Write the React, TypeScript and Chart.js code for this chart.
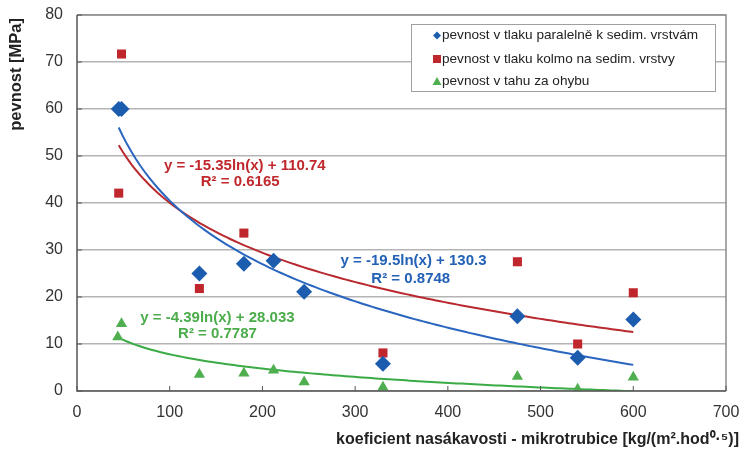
import React, { useEffect, useRef } from 'react';
import { Chart, registerables } from 'chart.js';
Chart.register(...registerables);

const FONT = '"Liberation Sans", Arial, Helvetica, sans-serif';

// Series
const seriesNames = [
  'pevnost v tlaku paralelně k sedim. vrstvám',
  'pevnost v tlaku kolmo na sedim. vrstvy',
  'pevnost v tahu za ohybu',
];
const parallelX = [45, 48, 132, 180, 212, 245, 330, 475, 540, 600];
const parallelY = [60, 60, 25, 27.1, 27.7, 21.1, 5.8, 15.9, 7.1, 15.2];
const perpX = [48, 45, 132, 180, 330, 475, 540, 600];
const perpY = [71.7, 42.1, 21.8, 33.6, 8.1, 27.5, 10.0, 20.9];
const bendX = [48, 44, 132, 180, 212, 245, 330, 475, 540, 600];
const bendY = [14.3, 11.5, 3.5, 3.8, 4.4, 1.9, 0.8, 3.1, 0.35, 2.9];

// Logarithmic trendlines as printed on the chart: y = a*ln(x) + b
const trendA = [-19.5, -15.35, -4.39];
const trendB = [130.3, 110.74, 28.033];
const trendFrom = [45, 45, 44];
const trendTo = [600, 600, 600];
const trendEq = ['y = -19.5ln(x) + 130.3', 'y = -15.35ln(x) + 110.74', 'y = -4.39ln(x) + 28.033'];
const trendR2 = ['R² = 0.8748', 'R² = 0.6165', 'R² = 0.7787'];
// label anchor points in data units (line 1 and line 2)
const eqX = [363, 181, 151.5];
const eqY = [27.6, 48.0, 15.6];
const r2X = [360, 176, 151.5];
const r2Y = [23.9, 44.4, 12.1];

const xTitle = 'koeficient nasákavosti - mikrotrubice [kg/(m².hod⁰·⁵)]';
const yTitle = 'pevnost [MPa]';
const xTicksMax = 700;
const yTicksMax = 80;

const markerColors = ['#1c5cae', '#c0272d', '#4fae4f'];
const lineColors = ['#2a66c0', '#b92a30', '#3bab45'];
const textColors = ['#2261b6', '#c0282d', '#4aac4a'];

function trendPoints(i: number) {
  const pts: { x: number; y: number }[] = [];
  const steps = 120;
  for (let k = 0; k <= steps; k++) {
    const x = trendFrom[i] + ((trendTo[i] - trendFrom[i]) * k) / steps;
    pts.push({ x, y: trendA[i] * Math.log(x) + trendB[i] });
  }
  return pts;
}

const zip = (xs: number[], ys: number[]) => xs.map((x, i) => ({ x, y: ys[i] }));

const decorPlugin = {
  id: 'decor',
  afterDraw(chart: any) {
    const { ctx, chartArea: ca, scales } = chart;
    const xs = scales.x;
    const ys = scales.y;
    ctx.save();
    // frame
    ctx.strokeStyle = '#8c8c8c';
    ctx.lineWidth = 1.5;
    ctx.beginPath();
    ctx.moveTo(ca.left, ca.top);
    ctx.lineTo(ca.right, ca.top);
    ctx.lineTo(ca.right, ca.bottom);
    ctx.stroke();
    ctx.strokeStyle = '#555';
    ctx.beginPath();
    ctx.moveTo(ca.left, ca.top);
    ctx.lineTo(ca.left, ca.bottom);
    ctx.lineTo(ca.right, ca.bottom);
    ctx.stroke();
    // inside tick marks
    ctx.lineWidth = 1;
    ctx.beginPath();
    for (let v = 0; v <= xTicksMax; v += 100) {
      const px = xs.getPixelForValue(v);
      ctx.moveTo(px, ca.bottom);
      ctx.lineTo(px, ca.bottom - 5);
    }
    for (let v = 0; v <= yTicksMax; v += 10) {
      const py = ys.getPixelForValue(v);
      ctx.moveTo(ca.left, py);
      ctx.lineTo(ca.left + 5, py);
    }
    ctx.stroke();

    // axis titles
    ctx.font = `bold 16px ${FONT}`;
    ctx.fillStyle = '#222';
    ctx.textAlign = 'right';
    ctx.textBaseline = 'middle';
    ctx.fillText(xTitle, chart.width - 2, ca.bottom + 49);

    ctx.save();
    ctx.translate(16, ca.top + 3);
    ctx.rotate(-Math.PI / 2);
    ctx.font = `bold 16.5px ${FONT}`;
    ctx.textAlign = 'right';
    ctx.fillText(yTitle, 0, 0);
    ctx.restore();

    // equations
    ctx.font = `bold 15px ${FONT}`;
    ctx.textAlign = 'center';
    ctx.textBaseline = 'middle';
    for (let i = 0; i < 3; i++) {
      ctx.fillStyle = textColors[i];
      ctx.fillText(trendEq[i], xs.getPixelForValue(eqX[i]), ys.getPixelForValue(eqY[i]));
      ctx.fillText(trendR2[i], xs.getPixelForValue(r2X[i]), ys.getPixelForValue(r2Y[i]));
    }

    // legend
    const lw = 304;
    const lh = 67;
    const lx = ca.right - 11 - lw;
    const ly = ca.top + 9;
    ctx.fillStyle = '#fff';
    ctx.fillRect(lx, ly, lw, lh);
    ctx.strokeStyle = '#a0a0a0';
    ctx.lineWidth = 1;
    ctx.strokeRect(lx + 0.5, ly + 0.5, lw, lh);
    ctx.font = `13.6px ${FONT}`;
    ctx.textAlign = 'left';
    const rowY = [ly + 11.5, ly + 35, ly + 57.5];
    const mx = lx + 26;
    for (let i = 0; i < 3; i++) {
      const y = rowY[i];
      ctx.fillStyle = markerColors[i];
      ctx.beginPath();
      if (i === 0) {
        ctx.moveTo(mx, y - 4);
        ctx.lineTo(mx + 4, y);
        ctx.lineTo(mx, y + 4);
        ctx.lineTo(mx - 4, y);
      } else if (i === 1) {
        ctx.rect(mx - 4, y - 4, 8, 8);
      } else {
        ctx.moveTo(mx, y - 4.5);
        ctx.lineTo(mx + 4.5, y + 3.5);
        ctx.lineTo(mx - 4.5, y + 3.5);
      }
      ctx.closePath();
      ctx.fill();
      ctx.fillStyle = '#222';
      ctx.fillText(seriesNames[i], mx + 5, y);
    }
    ctx.restore();
  },
};

export default function App() {
  const ref = useRef<HTMLCanvasElement | null>(null);
  useEffect(() => {
    if (!ref.current) return;
    const pointStyles = ['rectRot', 'rect', 'triangle'];
    const radii = [8, 6.4, 6.5];
    const xsList = [parallelX, perpX, bendX];
    const ysList = [parallelY, perpY, bendY];
    const datasets: any[] = [];
    for (let i = 0; i < 3; i++) {
      datasets.push({
        type: 'line',
        label: 'trend ' + i,
        data: trendPoints(i),
        borderColor: lineColors[i],
        borderWidth: 2,
        pointRadius: 0,
        showLine: true,
        fill: false,
        tension: 0,
        order: 2,
      });
    }
    for (let i = 0; i < 3; i++) {
      datasets.push({
        type: 'scatter',
        label: seriesNames[i],
        data: zip(xsList[i], ysList[i]),
        pointStyle: pointStyles[i],
        pointRadius: radii[i],
        backgroundColor: markerColors[i],
        borderColor: markerColors[i],
        borderWidth: 0,
        order: 1,
      });
    }
    const chart = new Chart(ref.current, {
      type: 'scatter',
      data: { datasets },
      options: {
        animation: false,
        responsive: false,
        devicePixelRatio: 1,
        layout: { padding: { top: 15, right: 15, left: 0, bottom: 0 } },
        plugins: { legend: { display: false }, tooltip: { enabled: false }, title: { display: false } },
        scales: {
          x: {
            type: 'linear',
            min: 0,
            max: xTicksMax,
            ticks: { stepSize: 100, padding: 12, color: '#333', font: { family: FONT, size: 16 } },
            grid: { display: false, drawTicks: false },
            border: { display: false },
            title: { display: false },
            afterFit: (s: any) => {
              s.height = 59;
              s.paddingLeft = 0;
              s.paddingRight = 0;
            },
          },
          y: {
            type: 'linear',
            min: 0,
            max: yTicksMax,
            ticks: { stepSize: 10, padding: 14, color: '#333', font: { family: FONT, size: 16 } },
            grid: { color: '#b4b4b4', lineWidth: 1.5, drawTicks: false },
            border: { display: false },
            title: { display: false },
            afterFit: (s: any) => {
              s.width = 77;
              s.paddingTop = 0;
              s.paddingBottom = 0;
            },
          },
        },
      },
      plugins: [decorPlugin],
    } as any);
    return () => chart.destroy();
  }, []);
  return (
    <div style={{ position: 'absolute', left: 0, top: 0, width: 741, height: 450, background: '#fff' }}>
      <canvas ref={ref} width={741} height={450} style={{ display: 'block', width: 741, height: 450 }} />
    </div>
  );
}
